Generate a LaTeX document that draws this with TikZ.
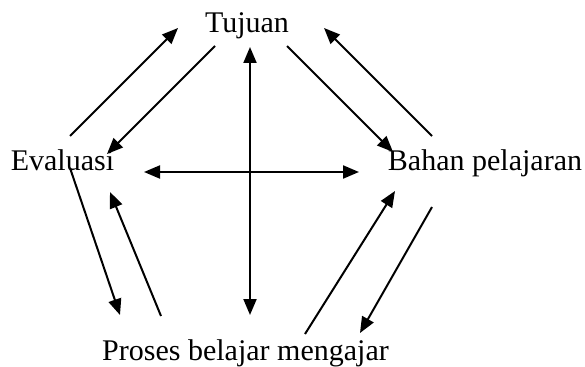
\documentclass[tikz,border=0pt]{standalone}
\usepackage{fontspec}
\setmainfont{Liberation Serif}
\usetikzlibrary{
arrows.meta,
graphs,
positioning,
}
\tikzset{
outer sep=auto,
every node/.style={align=center},
label/.style={inner sep=0pt, anchor=base, font=\fontsize{12pt}{14pt}\selectfont},
>={Triangle[length=6.4pt,width=5.2pt]},
every edge/.style={draw, line width=0.8pt},
}

\begin{document}
\begin{tikzpicture}[x=0.4pt, y=-0.4pt, line width=0.8pt]
\useasboundingbox (0,0) rectangle (585,366);
\node (tujuan) [label] at (247,33) {Tujuan};
\node (evaluasi) [label] at (62.5,170) {Evaluasi};
\node (bahan) [label] at (485,170) {Bahan pelajaran};
\node (proses) [label] at (245.5,360) {Proses belajar mengajar};
% ends of the arrows
\coordinate (et1) at (70,136);  \coordinate (et2) at (178,28);
\coordinate (te1) at (215,46);  \coordinate (te2) at (107,154);
\coordinate (tb1) at (287,46);  \coordinate (tb2) at (393,152);
\coordinate (bt1) at (432,136); \coordinate (bt2) at (324,28);
\coordinate (bp1) at (432,207); \coordinate (bp2) at (360,333);
\coordinate (pb1) at (305,334); \coordinate (pb2) at (395,191);
\coordinate (pe1) at (161,316); \coordinate (pe2) at (110,192);
\coordinate (ep1) at (70,168);  \coordinate (ep2) at (120,315);
\coordinate (vtop) at (250,47); \coordinate (vbot) at (250,315);
\coordinate (hleft) at (144,172); \coordinate (hright) at (359,172);
\graph [use existing nodes] {
    et1 -> et2; te1 -> te2;
    tb1 -> tb2; bt1 -> bt2;
    bp1 -> bp2; pb1 -> pb2;
    pe1 -> pe2; ep1 -> ep2;
    vtop <-> vbot; hleft <-> hright;
};
\end{tikzpicture}
\end{document}
